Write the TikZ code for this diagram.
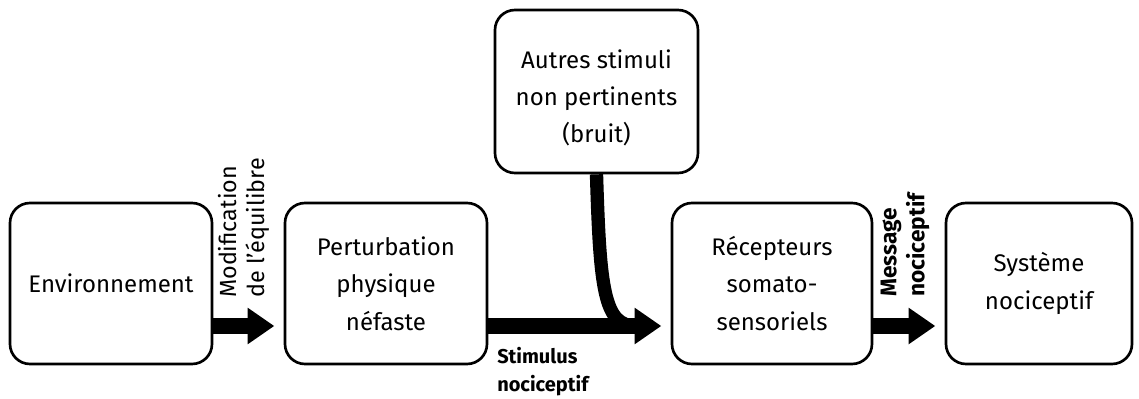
\documentclass[tikz,border=0pt]{standalone}
\usepackage{fontspec}
\setmainfont{Fira Sans}
\usetikzlibrary{arrows.meta}
\begin{document}
\begin{tikzpicture}[x=0.75pt,y=-0.75pt,
  box/.style={draw, line width=2pt, rounded corners=15pt, align=center,
    font=\fontsize{18}{28}\selectfont, inner sep=0pt, minimum height=120.75pt},
  txt/.style={inner sep=0pt, align=center, font=\fontsize{18}{28}\selectfont},
  flow/.style={line width=12.5pt, -{Triangle[length=20pt,width=26pt]}, shorten >=7pt},
  lbl/.style={inner sep=0pt, align=left, font=\fontsize{17.5}{21.5}\selectfont},
  blbl/.style={inner sep=0pt, align=left, font=\bfseries\fontsize{17}{21}\selectfont},
  slbl/.style={inner sep=0pt, align=left, font=\bfseries\fontsize{15}{21}\selectfont}]
\useasboundingbox (0,0) rectangle (1139,399);
\node[box, minimum width=151.5pt] (env) at (111,283.5) {Environnement};
\node[box, minimum width=151.5pt] (pert) at (386,283.5) {Perturbation\\physique\\néfaste};
\node[box, minimum width=150pt] (rec) at (772,283.5) {Récepteurs\\somato-\\sensoriels};
\node[box, minimum width=139.5pt] (sys) at (1039,283.5) {Système\\nociceptif};
\node[box, minimum width=152.25pt, minimum height=122.25pt] (aut) at (596.5,91.5) {};
\node[txt] (auttext) at (596.5,98) {Autres stimuli\\non pertinents\\(bruit)};
\coordinate (row) at (0,326);
\coordinate (merge) at (636,326);
\draw[line width=10pt] (aut.south) .. controls (600,290) and (604,326) .. (merge);
\draw[flow] (env.east |- row) -- (pert.west |- row);
\draw[flow] (pert.east |- row) -- (rec.west |- row);
\draw[flow] (rec.east |- row) -- (sys.west |- row);
\node[lbl, rotate=90, anchor=west] (mod) at (244,298) {Modification\\de l’équilibre};
\node[blbl, rotate=90, anchor=west] (msg) at (905,297) {Message\\nociceptif};
\node[slbl, anchor=north west] (stim) at (497,347) {Stimulus\\nociceptif};
\end{tikzpicture}
\end{document}
